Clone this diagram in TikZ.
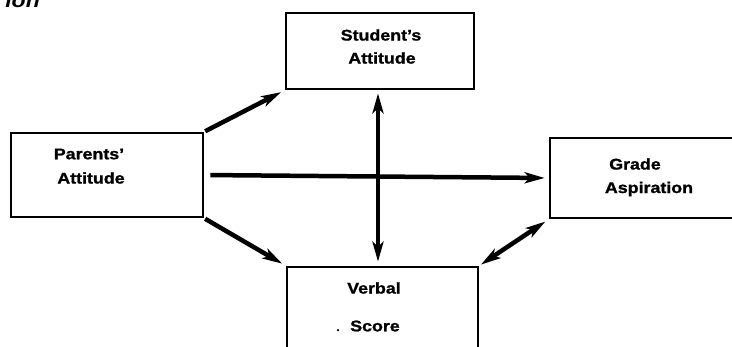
\documentclass[tikz,border=0pt]{standalone}
\usepackage{fontspec}
\setmainfont{Liberation Sans}[FakeStretch=1.15, BoldFeatures={FakeBold=1.2}]
\usetikzlibrary{arrows.meta,calc}

\tikzset{
  box/.style={draw=black, line width=2.6pt, rectangle, inner sep=0pt},
  lbl/.style={font=\bfseries\fontsize{15.5}{17}\selectfont, inner sep=0pt},
  flow/.style={line width=4.5pt, -{Stealth[length=20pt,width=11pt,inset=5pt]}},
  flowboth/.style={line width=4.5pt, {Stealth[length=20pt,width=11pt,inset=5pt]}-{Stealth[length=20pt,width=11pt,inset=5pt]}},
}

\begin{document}
\begin{tikzpicture}[x=1pt,y=-1pt]
  \clip (0,0) rectangle (732,346);
  \fill[white] (0,0) rectangle (732,346);

  % tail of the heading above the figure
  \node[anchor=base east, inner sep=0pt, font=\bfseries\itshape\fontsize{20}{22}\selectfont] (head) at (40,7) {ion};

  % boxes
  \node[box, minimum width=188pt, minimum height=76pt] (student) at (380,51) {};
  \node[box, minimum width=192pt, minimum height=84pt] (parents) at (107,175) {};
  \node[box, minimum width=190pt, minimum height=80pt] (grade) at (645,178) {};
  \node[box, minimum width=191pt, minimum height=100pt] (verbal) at (382.5,317) {};

  % box labels
  \node[lbl] (t1) at (381,35) {Student's};
  \node[lbl] (t2) at (382,58) {Attitude};
  \node[lbl] (t3) at (89,154) {Parents'};
  \node[lbl] (t4) at (91,178) {Attitude};
  \node[lbl] (t5) at (635,164) {Grade};
  \node[lbl] (t6) at (649,189) {Aspiration};
  \node[lbl] (t7) at (374,288) {Verbal};
  \node[lbl] (t8) at (375,326) {Score};
  \node[circle, fill=black, inner sep=0pt, minimum size=2.5pt] (dot) at (338,330) {};

  % connectors
  \draw[flow, shorten <=1pt, shorten >=4pt] (parents.north east) -- (student.south west);
  \draw[flow, shorten <=1pt, shorten >=4pt] (parents.south east) -- (verbal.north west);
  \draw[flow, shorten <=6pt, shorten >=4pt] (parents.east) -- (grade.west);
  \draw[flowboth, shorten <=3pt, shorten >=4pt] ($(student.south)+(-2,0)$) -- ($(student.south |- verbal.north)+(-2,0)$);
  \draw[flowboth, shorten <=2pt, shorten >=4pt] (verbal.north east) -- (grade.south west);
\end{tikzpicture}
\end{document}
